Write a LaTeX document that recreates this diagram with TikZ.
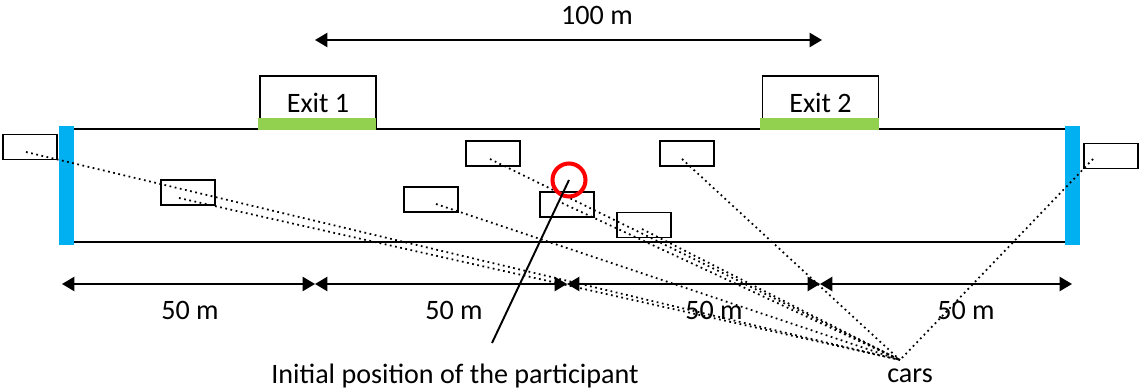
\documentclass[tikz,border=0pt]{standalone}
\usepackage{fontspec}
\setmainfont{Carlito}
\usetikzlibrary{arrows.meta}
\definecolor{laneblue}{RGB}{0,176,240}
\definecolor{exitgreen}{RGB}{146,208,80}
\begin{document}
\begin{tikzpicture}[x=0.02cm,y=-0.02cm]\tikzset{car/.style = {shape=rectangle, draw, line width=1.1pt, minimum width=1.08cm, minimum height=0.5cm, inner sep=0pt},
	exitbox/.style = {shape=rectangle, draw, line width=1.1pt, minimum width=2.32cm, minimum height=1.06cm, inner sep=0pt},
	dim/.style = {{Triangle[length=7pt,width=8pt]}-{Triangle[length=7pt,width=8pt]}, line width=1.1pt},
	sight/.style = {dotted, line width=1pt},
	txt/.style = {font=\fontsize{16}{19}\selectfont, inner sep=0pt}}

		\useasboundingbox (0,0) rectangle (1140,388);

		\draw[line width=1.1pt] (62,129) -- (1072,129);
		\draw[line width=1.1pt] (62,242) -- (1072,242);

		\node[exitbox, txt, draw, inner sep=0pt] (E1) at (318,102.5) {Exit 1};
		\node[exitbox, txt, draw, inner sep=0pt] (E2) at (820.5,102.5) {Exit 2};
		\fill[exitgreen] (258,118) rectangle (376,130);
		\fill[exitgreen] (760,118) rectangle (879,130);

		\fill[laneblue] (59,126) rectangle (74,245);
		\fill[laneblue] (1065,126) rectangle (1080,245);

		\node[car] (C1) at (30,147) {};
		\node[car] (C2) at (188,192.5) {};
		\node[car] (C3) at (493,153.5) {};
		\node[car] (C4) at (431,199.5) {};
		\node[car] (C5) at (567,204.5) {};
		\node[car] (C6) at (644,225) {};
		\node[car] (C7) at (687,153.5) {};
		\node[car] (C8) at (1111,156) {};

		\coordinate (S1) at (26,152);
		\coordinate (S2) at (179,198);
		\coordinate (S3) at (490,159);
		\coordinate (S4) at (436,204);
		\coordinate (S5) at (562,203);
		\coordinate (S6) at (642,229);
		\coordinate (S7) at (682,159);
		\coordinate (S8) at (1093,159);
		\coordinate (cars) at (900,360);

		\draw[sight] (S1) -- (cars);
		\draw[sight] (S2) -- (cars);
		\draw[sight] (S3) -- (cars);
		\draw[sight] (S4) -- (cars);
		\draw[sight] (S5) -- (cars);
		\draw[sight] (S6) -- (cars);
		\draw[sight] (S7) -- (cars);
		\draw[sight] (S8) -- (cars);

		\coordinate (T1) at (315,40);
		\coordinate (T2) at (822,40);
		\draw[dim] (T1) -- (T2);
		\node[txt] (L0) at (597,15) {100 m};

		\coordinate (D0) at (62,284);
		\coordinate (D1) at (315,284);
		\coordinate (D2) at (567,284);
		\coordinate (D3) at (820,284);
		\coordinate (D4) at (1072,284);
		\draw[dim] (D0) -- (D1);
		\draw[dim] (D1) -- (D2);
		\draw[dim] (D2) -- (D3);
		\draw[dim] (D3) -- (D4);
		\node[txt] (L1) at (190,310) {50 m};
		\node[txt] (L2) at (454,310) {50 m};
		\node[txt] (L3) at (714,310) {50 m};
		\node[txt] (L4) at (966,310) {50 m};

		\node[shape=circle, draw=red, line width=2.3pt, minimum size=0.66cm, inner sep=0pt] (P) at (569,180) {};
		\coordinate (ptr) at (492,343);
		\draw[line width=1.1pt] (P.center) -- (ptr);

		\node[txt] (init) at (455,376) {Initial position of the participant};
		\node[txt] (carlabel) at (910,376) {cars};
	\end{tikzpicture}
\end{document}
